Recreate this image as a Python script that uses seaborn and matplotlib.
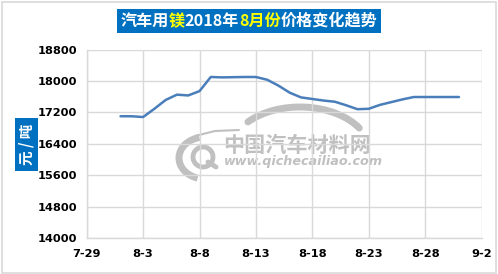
import numpy as np
import pandas as pd
import matplotlib
matplotlib.use("Agg")
import matplotlib.pyplot as plt
from matplotlib.patches import Rectangle, Arc
import seaborn as sns

# ---- data ----
dates = pd.date_range("2018-08-01", "2018-08-31", freq="D")
prices = [17100, 17100, 17080, 17290, 17515, 17650, 17630, 17740, 18100, 18090,
          18095, 18100, 18100, 18030, 17880, 17700, 17580, 17540, 17500, 17470,
          17380, 17280, 17290, 17390, 17460, 17530, 17590, 17590, 17590, 17590,
          17590]
x_ticks = pd.date_range("2018-07-29", "2018-09-02", freq="5D")
x_labels = ["7-29", "8-3", "8-8", "8-13", "8-18", "8-23", "8-28", "9-2"]
y_ticks = [14000, 14800, 15600, 16400, 17200, 18000, 18800]
title_parts = [("汽车用", "white"), ("镁", "#FFFF00"), ("2018年", "white"),
               ("8月份", "#FFFF00"), ("价格变化趋势", "white")]
y_label = "元 / 吨"

df = pd.DataFrame({"date": dates, "price": prices})

sns.set_theme(style="white")
plt.rcParams["font.family"] = ["Noto Sans CJK SC", "DejaVu Sans"]

W, H = 498, 274
fig = plt.figure(figsize=(W / 100, H / 100), dpi=100)
fig.patch.set_facecolor("white")

# outer frame
fig.add_artist(Rectangle((1.5 / W, 1.5 / H), (W - 3.5) / W, (H - 3.5) / H,
                         transform=fig.transFigure, fill=False,
                         edgecolor="#D9D9D9", linewidth=1.2))

# watermark (pixel coords, y measured from bottom)
ax_wm = fig.add_axes([0, 0, 1, 1], zorder=-1)
ax_wm.set_xlim(0, W)
ax_wm.set_ylim(0, H)
ax_wm.axis("off")
wm = "#C0C0C0"
ax_wm.add_patch(Arc((300, H - 152), 140, 90, theta1=22, theta2=150,
                    color=wm, linewidth=5, capstyle="round"))
ax_wm.plot([239, 215, 195], [H - 130, H - 131, H - 136], color=wm, lw=1.5)
ax_wm.add_patch(Arc((205, H - 158), 52, 42, theta1=105, theta2=250,
                    color=wm, linewidth=5))
ax_wm.add_patch(Arc((203, H - 157), 20, 20, theta1=0, theta2=360,
                    color=wm, linewidth=3.5))
ax_wm.plot([208, 216], [H - 162, H - 167], color=wm, lw=3.5)
ax_wm.text(223, H - 145, "中国汽车材料网", fontsize=15.2, fontweight="bold",
           color=wm, va="center", ha="left",
           family=["Noto Sans CJK SC", "DejaVu Sans"])
ax_wm.text(224, H - 162, "www.qichecailiao.com", fontsize=9.2, fontweight="bold",
           color=wm, va="center", ha="left", style="italic",
           family=["DejaVu Sans"])

ax = fig.add_axes([86.7 / W, 1 - 238 / H, (481.5 - 86.7) / W, (238 - 49.5) / H])
ax.set_facecolor("none")

sns.lineplot(data=df, x="date", y="price", ax=ax, color="#4A7EBB",
             linewidth=1.8, zorder=3)

ax.set_xlim(x_ticks[0], x_ticks[-1])
ax.set_ylim(y_ticks[0], y_ticks[-1])
ax.set_xticks(x_ticks)
ax.set_xticklabels(x_labels)
ax.set_yticks(y_ticks)
ax.set_yticklabels([str(v) for v in y_ticks])
ax.set_xlabel("")
ax.set_ylabel("")
ax.grid(True, color="#D9D9D9", linewidth=1)
for s in ["top", "right"]:
    ax.spines[s].set_visible(False)
for s in ["left", "bottom"]:
    ax.spines[s].set_color("#D9D9D9")
    ax.spines[s].set_linewidth(1)
ax.tick_params(axis="both", length=0, labelsize=8.2, labelcolor="black")
ax.tick_params(axis="x", pad=8)
ax.tick_params(axis="y", pad=7)
for lab in ax.get_xticklabels() + ax.get_yticklabels():
    lab.set_fontweight("bold")
    lab.set_family(["DejaVu Sans"])

# title box
fig.add_artist(Rectangle((117 / W, 1 - 33 / H), (381 - 117) / W, 24 / H,
                         transform=fig.transFigure, facecolor="#0070C0",
                         edgecolor="none"))
renderer = fig.canvas.get_renderer()
fs = 11.6
texts = []
widths = []
for part, col in title_parts:
    t = fig.text(0, 1 - 21 / H, part, color=col, fontsize=fs, fontweight="bold",
                 va="center", ha="left",
                 family=["Noto Sans CJK SC", "DejaVu Sans"])
    widths.append(t.get_window_extent(renderer=renderer).width)
    texts.append(t)
total = sum(widths)
xcur = (249 - total / 2)
for t, w in zip(texts, widths):
    t.set_x(xcur / W)
    xcur += w

# y label box
fig.add_artist(Rectangle((15 / W, 1 - 171 / H), 23 / W, 53 / H,
                         transform=fig.transFigure, facecolor="#0070C0",
                         edgecolor="none"))
fig.text(26.5 / W, 1 - 144.5 / H, y_label, rotation=90, color="white",
         fontsize=10.5, fontweight="bold", va="center", ha="center",
         family=["Noto Sans CJK SC", "DejaVu Sans"])

fig.savefig("out.png", dpi=100, facecolor="white")
